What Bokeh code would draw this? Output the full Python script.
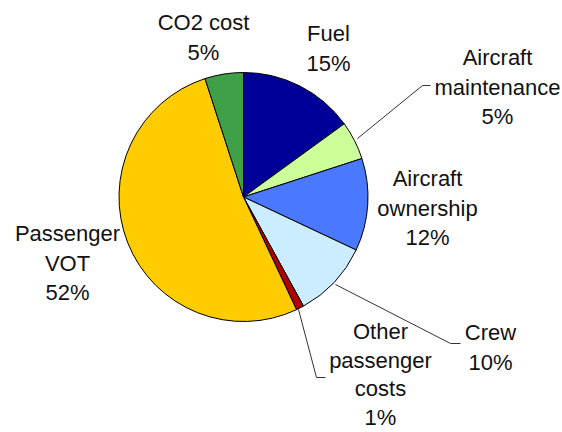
import math
from bokeh.plotting import figure
from bokeh.models import Range1d
from bokeh.core.properties import value
from bokeh.embed import file_html
from bokeh.resources import INLINE

# ---- data ----
categories = ["Fuel", "Aircraft maintenance", "Aircraft ownership", "Crew",
              "Other passenger costs", "Passenger VOT", "CO2 cost"]
shares = [15, 5, 12, 10, 1, 52, 5]
label_lines = [["Fuel"], ["Aircraft", "maintenance"], ["Aircraft", "ownership"],
               ["Crew"], ["Other", "passenger", "costs"], ["Passenger", "VOT"],
               ["CO2 cost"]]
colors = ["#000099", "#CCFF99", "#4A78FF", "#CCECFF", "#B00000", "#FFCC00", "#40A048"]

# ---- layout (pixel positions, y from top) ----
W, H = 562, 432
cx, cy, r = 243, 196.5, 124.5
label_pos = [(328, 33), (497, 57), (427, 178), (490, 332), (380, 331), (67, 233), (203, 22)]
line_gaps = [29.5, 29.5, 29.5, 29.5, 28.7, 29.5, 29.5]
leaders = {
    1: [(357, 138), (422, 85), (430, 85)],
    3: [(335, 284), (450, 343), (460, 343)],
    4: [(298, 309), (316, 377), (325, 377)],
}

def Y(y):
    return H - y

p = figure(width=W, height=H, output_backend="svg", toolbar_location=None,
           x_range=Range1d(0, W), y_range=Range1d(0, H), min_border=0)
p.axis.visible = False
p.grid.visible = False
p.outline_line_color = None
p.background_fill_color = "white"
p.border_fill_color = "white"

total = float(sum(shares))
starts, ends = [], []
cum = 0.0
for s in shares:
    starts.append(math.pi / 2 - 2 * math.pi * cum / total)
    cum += s
    ends.append(math.pi / 2 - 2 * math.pi * cum / total)

p.wedge(x=[cx] * len(shares), y=[Y(cy)] * len(shares), radius=r,
        start_angle=starts, end_angle=ends, direction="clock",
        fill_color=colors, line_color="black", line_width=1)

for i, pts in leaders.items():
    p.line([q[0] for q in pts], [Y(q[1]) for q in pts], line_color="#333333", line_width=1)

xs, ys, txt = [], [], []
for i, lines in enumerate(label_lines):
    allines = lines + [f"{shares[i]}%"]
    x0, y0 = label_pos[i]
    for k, t in enumerate(allines):
        xs.append(x0)
        ys.append(Y(y0 + k * line_gaps[i]))
        txt.append(t)

p.text(x=xs, y=ys, text=txt, text_align="center", text_baseline="middle",
       text_font=value("Liberation Sans"), text_font_size="22px", text_color="#111111")

open("out.html", "w").write(file_html(p, INLINE))
